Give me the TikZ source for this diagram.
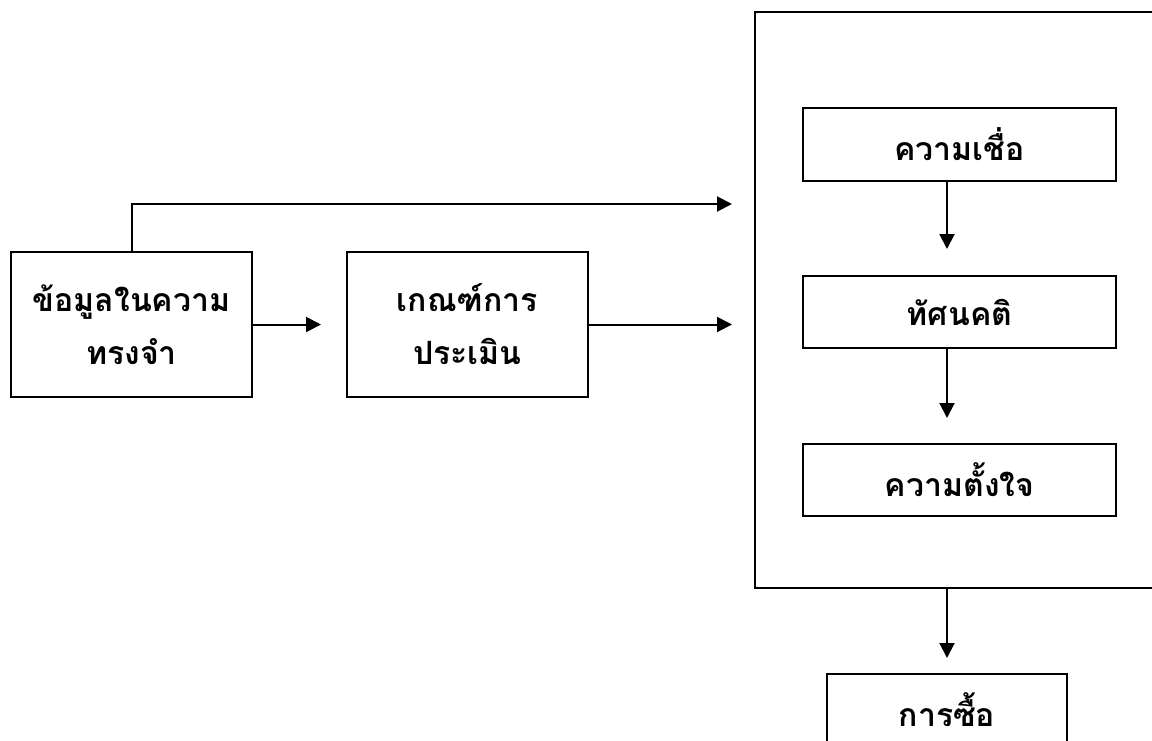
\documentclass[tikz,border=0pt]{standalone}
\usepackage{fontspec}
\setmainfont[Script=Thai]{Loma}
\usepackage{tikz}
\usetikzlibrary{arrows.meta, positioning}
\tikzset{
>={Triangle[length=7.5pt,width=7.5pt]}, % filled triangle heads
box/.style={draw, align=center, font=\fontsize{16}{26.5}\selectfont\bfseries}, % every framed box
}

\begin{document}
\begin{tikzpicture}[x=0.5pt,y=-0.5pt,line width=1pt]
        \useasboundingbox (0,0) rectangle (1152,740);
        \clip (0,0) rectangle (1152,740);
        % left part
        \node[box, minimum width=120.5pt, minimum height=72.5pt] (memory) at (131.5,324.5) {ข้อมูลในความ\\ทรงจำ};
        \node[box, minimum width=120.5pt, minimum height=72.5pt] (criteria) at (467.5,324.5) {เกณฑ์การ\\ประเมิน};
        \coordinate (memtop) at (131.5,204);
        % right part
        \node[draw, minimum width=202.5pt, minimum height=288pt] (frame) at (957.5,300) {};
        \node[box, minimum width=156.5pt, minimum height=36.5pt] (belief) at (959.5,144.5) {ความเชื่อ};
        \node[box, minimum width=156.5pt, minimum height=36pt] (attitude) at (959.5,312) {ทัศนคติ};
        \node[box, minimum width=156.5pt, minimum height=36pt] (intention) at (959.5,480) {ความตั้งใจ};
        \node[box, minimum width=120pt, minimum height=36pt] (purchase) at (947,710) {การซื้อ};

        \draw[->, shorten >=12.5pt] (memory) -- (criteria);
        \draw[->, shorten >=11pt] (criteria.east) -- (criteria.east -| frame.west);
        \draw[->, shorten >=11pt] (memory.north) -- (memtop) -- (memtop -| frame.west);
        \draw[->, shorten >=13pt] (belief.south -| purchase) -- (attitude.north -| purchase);
        \draw[->, shorten >=12.5pt] (attitude.south -| purchase) -- (intention.north -| purchase);
        \draw[->, shorten >=7.5pt] (frame.south -| purchase) -- (purchase.north);
    \end{tikzpicture}
\end{document}
